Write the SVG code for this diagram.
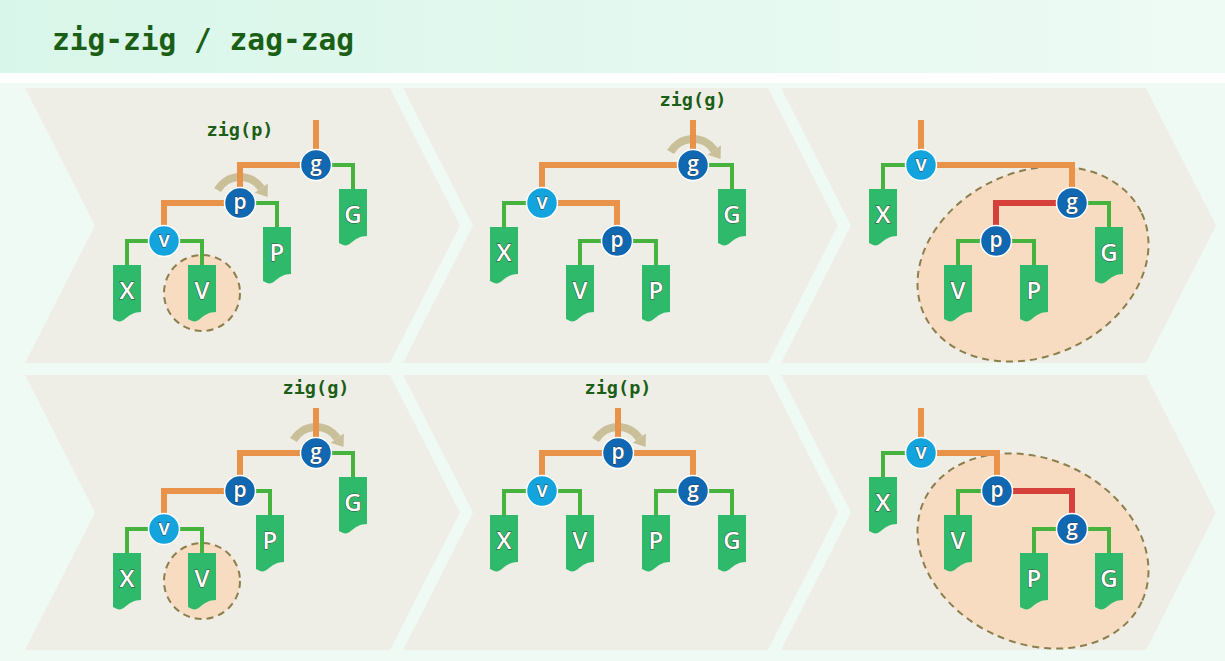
<svg xmlns="http://www.w3.org/2000/svg" xmlns:xlink="http://www.w3.org/1999/xlink" width="1225" height="661" viewBox="0 0 1225 661">
<defs>
<linearGradient id="band" x1="0" y1="0" x2="1" y2="0">
<stop offset="0" stop-color="#d8f6e9"/>
<stop offset="1" stop-color="#eefbf4"/>
</linearGradient>
<path id="leaf" d="M0,0 H28 V47 C21,47 17,50 13,53 C10,56 7,57 4,56 L0,54 Z"/>
<style>
.panel{fill:#efeee6}
.title{font-family:"DejaVu Sans Mono","Liberation Mono",monospace;font-weight:bold;font-size:29.5px;fill:#1b5e16}
.lbl{font-family:"DejaVu Sans Mono","Liberation Mono",monospace;font-weight:bold;font-size:18.5px;fill:#1b5e16;text-anchor:middle}
.o{fill:none;stroke:#e8924a;stroke-width:6}
.gr{fill:none;stroke:#46b33e;stroke-width:4}
.r{fill:none;stroke:#d6403a;stroke-width:6}
.arc{fill:none;stroke:#c9c09a;stroke-width:8}
.arh{fill:#c9c09a}
.hl{fill:#f8dcc2;stroke:#8c7f4e;stroke-width:2;stroke-dasharray:7 5}
.dk{fill:#0f68b1;stroke:#ffffff;stroke-width:1.5}
.lt{fill:#13a4de;stroke:#ffffff;stroke-width:1.5}
.nt{font-family:"Open Sans","Noto Sans",sans-serif;font-weight:600;font-size:21px;fill:#ffffff;text-anchor:middle;stroke:#2a3a4a;stroke-width:0.8;paint-order:stroke}
.lf{fill:#2fba6b}
.lt2{font-family:"Open Sans","Noto Sans",sans-serif;font-weight:600;font-size:24px;fill:#ffffff;text-anchor:middle;stroke:#3a4a3a;stroke-width:1;paint-order:stroke}
</style>
</defs>
<rect x="0" y="0" width="1225" height="661" fill="#f0faf5"/>
<rect x="0" y="0" width="1225" height="73" fill="url(#band)"/>
<rect x="0" y="73" width="1225" height="10" fill="#ffffff"/>
<text class="title" x="52" y="50">zig-zig / zag-zag</text>

<g id="panels">
<polygon class="panel" points="25,88 390,88 460,225.5 390,363 25,363 95,225.5"/>
<polygon class="panel" points="403,88 768,88 838,225.5 768,363 403,363 473,225.5"/>
<polygon class="panel" points="781,88 1146,88 1216,225.5 1146,363 781,363 851,225.5"/>
<polygon class="panel" points="25,375 390,375 460,512.5 390,650 25,650 95,512.5"/>
<polygon class="panel" points="403,375 768,375 838,512.5 768,650 403,650 473,512.5"/>
<polygon class="panel" points="781,375 1146,375 1216,512.5 1146,650 781,650 851,512.5"/>
</g>

<g id="highlights">
<circle class="hl" cx="202" cy="293" r="38"/>
<ellipse class="hl" cx="1033" cy="264" rx="120" ry="92" transform="rotate(-25 1033 264)"/>
<circle class="hl" cx="202" cy="581" r="38"/>
<ellipse class="hl" cx="1033" cy="551" rx="120" ry="92" transform="rotate(25 1033 551)"/>
</g>

<g id="rotations">
<g transform="translate(240,203)">
<path class="arc" d="M-22.5,-13 A26,26 0 0 1 21.3,-14.9"/>
<polygon class="arh" points="27.9,-19.5 14.7,-10.3 27.6,-6.0"/>
</g>
<g transform="translate(693,165)">
<path class="arc" d="M-22.5,-13 A26,26 0 0 1 21.3,-14.9"/>
<polygon class="arh" points="27.9,-19.5 14.7,-10.3 27.6,-6.0"/>
</g>
<g transform="translate(316,453)">
<path class="arc" d="M-22.5,-13 A26,26 0 0 1 21.3,-14.9"/>
<polygon class="arh" points="27.9,-19.5 14.7,-10.3 27.6,-6.0"/>
</g>
<g transform="translate(618,453)">
<path class="arc" d="M-22.5,-13 A26,26 0 0 1 21.3,-14.9"/>
<polygon class="arh" points="27.9,-19.5 14.7,-10.3 27.6,-6.0"/>
</g>
</g>

<g id="labels">
<text class="lbl" x="240" y="136">zig(p)</text>
<text class="lbl" x="693" y="106">zig(g)</text>
<text class="lbl" x="316" y="394">zig(g)</text>
<text class="lbl" x="618" y="394">zig(p)</text>
</g>

<g id="connectors">
<path class="o" d="M316,120 V165"/>
<path class="o" d="M316,165 H240 V203"/>
<path class="gr" d="M316,165 H353 V189"/>
<path class="o" d="M240,203 H164 V241"/>
<path class="gr" d="M240,203 H277 V227"/>
<path class="gr" d="M164,241 H127 V265"/>
<path class="gr" d="M164,241 H202 V265"/>
<path class="o" d="M693,120 V165"/>
<path class="o" d="M693,165 H542 V203"/>
<path class="gr" d="M693,165 H732 V189"/>
<path class="gr" d="M542,203 H504 V227"/>
<path class="o" d="M542,203 H617 V241"/>
<path class="gr" d="M617,241 H580 V265"/>
<path class="gr" d="M617,241 H656 V265"/>
<path class="o" d="M921,120 V165"/>
<path class="gr" d="M921,165 H883 V189"/>
<path class="o" d="M921,165 H1072 V203"/>
<path class="r" d="M1072,203 H996 V241"/>
<path class="gr" d="M1072,203 H1109 V227"/>
<path class="gr" d="M996,241 H958 V265"/>
<path class="gr" d="M996,241 H1034 V265"/>
<path class="o" d="M316,408 V453"/>
<path class="o" d="M316,453 H240 V491"/>
<path class="gr" d="M316,453 H353 V477"/>
<path class="o" d="M240,491 H164 V529"/>
<path class="gr" d="M240,491 H270 V515"/>
<path class="gr" d="M164,529 H127 V553"/>
<path class="gr" d="M164,529 H202 V553"/>
<path class="o" d="M618,408 V453"/>
<path class="o" d="M618,453 H542 V491"/>
<path class="o" d="M618,453 H693 V491"/>
<path class="gr" d="M542,491 H504 V515"/>
<path class="gr" d="M542,491 H580 V515"/>
<path class="gr" d="M693,491 H656 V515"/>
<path class="gr" d="M693,491 H732 V515"/>
<path class="o" d="M921,408 V453"/>
<path class="gr" d="M921,453 H883 V477"/>
<path class="o" d="M921,453 H997 V491"/>
<path class="gr" d="M997,491 H958 V515"/>
<path class="r" d="M997,491 H1072 V529"/>
<path class="gr" d="M1072,529 H1034 V553"/>
<path class="gr" d="M1072,529 H1109 V553"/>
</g>

<g id="r1p1-g"><circle class="dk" cx="316" cy="165" r="15.5"/><text class="nt" x="316" y="171">g</text></g>
<g id="r1p1-p"><circle class="dk" cx="240" cy="203" r="15.5"/><text class="nt" x="240" y="209">p</text></g>
<g id="r1p1-v"><circle class="lt" cx="164" cy="241" r="15.5"/><text class="nt" x="164" y="247">v</text></g>
<g id="r1p1-X"><use href="#leaf" class="lf" x="113" y="265"/><text class="lt2" x="127" y="299">X</text></g>
<g id="r1p1-V"><use href="#leaf" class="lf" x="188" y="265"/><text class="lt2" x="202" y="299">V</text></g>
<g id="r1p1-P"><use href="#leaf" class="lf" x="263" y="227"/><text class="lt2" x="277" y="261">P</text></g>
<g id="r1p1-G"><use href="#leaf" class="lf" x="339" y="189"/><text class="lt2" x="353" y="223">G</text></g>

<g id="r1p2-g"><circle class="dk" cx="693" cy="165" r="15.5"/><text class="nt" x="693" y="171">g</text></g>
<g id="r1p2-v"><circle class="lt" cx="542" cy="203" r="15.5"/><text class="nt" x="542" y="209">v</text></g>
<g id="r1p2-p"><circle class="dk" cx="617" cy="241" r="15.5"/><text class="nt" x="617" y="247">p</text></g>
<g id="r1p2-X"><use href="#leaf" class="lf" x="490" y="227"/><text class="lt2" x="504" y="261">X</text></g>
<g id="r1p2-V"><use href="#leaf" class="lf" x="566" y="265"/><text class="lt2" x="580" y="299">V</text></g>
<g id="r1p2-P"><use href="#leaf" class="lf" x="642" y="265"/><text class="lt2" x="656" y="299">P</text></g>
<g id="r1p2-G"><use href="#leaf" class="lf" x="718" y="189"/><text class="lt2" x="732" y="223">G</text></g>

<g id="r1p3-v"><circle class="lt" cx="921" cy="165" r="15.5"/><text class="nt" x="921" y="171">v</text></g>
<g id="r1p3-g"><circle class="dk" cx="1072" cy="203" r="15.5"/><text class="nt" x="1072" y="209">g</text></g>
<g id="r1p3-p"><circle class="dk" cx="996" cy="241" r="15.5"/><text class="nt" x="996" y="247">p</text></g>
<g id="r1p3-X"><use href="#leaf" class="lf" x="869" y="189"/><text class="lt2" x="883" y="223">X</text></g>
<g id="r1p3-G"><use href="#leaf" class="lf" x="1095" y="227"/><text class="lt2" x="1109" y="261">G</text></g>
<g id="r1p3-V"><use href="#leaf" class="lf" x="944" y="265"/><text class="lt2" x="958" y="299">V</text></g>
<g id="r1p3-P"><use href="#leaf" class="lf" x="1020" y="265"/><text class="lt2" x="1034" y="299">P</text></g>

<g id="r2p1-g"><circle class="dk" cx="316" cy="453" r="15.5"/><text class="nt" x="316" y="459">g</text></g>
<g id="r2p1-p"><circle class="dk" cx="240" cy="491" r="15.5"/><text class="nt" x="240" y="497">p</text></g>
<g id="r2p1-v"><circle class="lt" cx="164" cy="529" r="15.5"/><text class="nt" x="164" y="535">v</text></g>
<g id="r2p1-X"><use href="#leaf" class="lf" x="113" y="553"/><text class="lt2" x="127" y="587">X</text></g>
<g id="r2p1-V"><use href="#leaf" class="lf" x="188" y="553"/><text class="lt2" x="202" y="587">V</text></g>
<g id="r2p1-P"><use href="#leaf" class="lf" x="256" y="515"/><text class="lt2" x="270" y="549">P</text></g>
<g id="r2p1-G"><use href="#leaf" class="lf" x="339" y="477"/><text class="lt2" x="353" y="511">G</text></g>

<g id="r2p2-p"><circle class="dk" cx="618" cy="453" r="15.5"/><text class="nt" x="618" y="459">p</text></g>
<g id="r2p2-v"><circle class="lt" cx="542" cy="491" r="15.5"/><text class="nt" x="542" y="497">v</text></g>
<g id="r2p2-g"><circle class="dk" cx="693" cy="491" r="15.5"/><text class="nt" x="693" y="497">g</text></g>
<g id="r2p2-X"><use href="#leaf" class="lf" x="490" y="515"/><text class="lt2" x="504" y="549">X</text></g>
<g id="r2p2-V"><use href="#leaf" class="lf" x="566" y="515"/><text class="lt2" x="580" y="549">V</text></g>
<g id="r2p2-P"><use href="#leaf" class="lf" x="642" y="515"/><text class="lt2" x="656" y="549">P</text></g>
<g id="r2p2-G"><use href="#leaf" class="lf" x="718" y="515"/><text class="lt2" x="732" y="549">G</text></g>

<g id="r2p3-v"><circle class="lt" cx="921" cy="453" r="15.5"/><text class="nt" x="921" y="459">v</text></g>
<g id="r2p3-p"><circle class="dk" cx="997" cy="491" r="15.5"/><text class="nt" x="997" y="497">p</text></g>
<g id="r2p3-g"><circle class="dk" cx="1072" cy="529" r="15.5"/><text class="nt" x="1072" y="535">g</text></g>
<g id="r2p3-X"><use href="#leaf" class="lf" x="869" y="477"/><text class="lt2" x="883" y="511">X</text></g>
<g id="r2p3-V"><use href="#leaf" class="lf" x="944" y="515"/><text class="lt2" x="958" y="549">V</text></g>
<g id="r2p3-P"><use href="#leaf" class="lf" x="1020" y="553"/><text class="lt2" x="1034" y="587">P</text></g>
<g id="r2p3-G"><use href="#leaf" class="lf" x="1095" y="553"/><text class="lt2" x="1109" y="587">G</text></g>
</svg>
